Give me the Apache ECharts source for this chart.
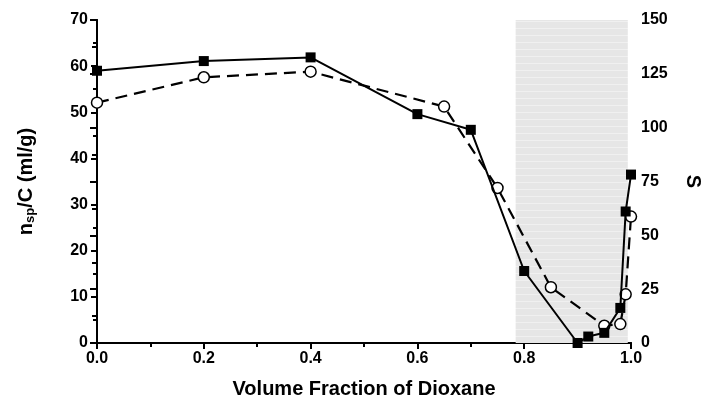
<!DOCTYPE html>
<html>
<head>
<meta charset="utf-8">
<script src="https://cdn.jsdelivr.net/npm/echarts@6/dist/echarts.min.js"></script>
<style>
  html, body { margin: 0; padding: 0; background: #fff; }
  #chart { width: 711px; height: 407px; }
</style>
</head>
<body>
<div id="chart"></div>
<script>
// nsp/C (left axis), filled squares
const nspX = [0, 0.2, 0.4, 0.6, 0.7, 0.8, 0.9, 0.92, 0.95, 0.98, 0.99, 1.0];
const nspY = [59, 61.1, 61.9, 49.6, 46.2, 15.6, 0, 1.4, 2.2, 7.6, 28.5, 36.5];

// S (right axis), open circles
const sX = [0, 0.2, 0.4, 0.65, 0.75, 0.85, 0.95, 0.98, 0.99, 1.0];
const sY = [111.6, 123.4, 126, 109.8, 72, 25.9, 8.0, 8.8, 22.6, 58.7];

// shaded band on x
const bandX = [0.784, 0.994];

const font = "'Liberation Sans', Arial, sans-serif";

// faint horizontal stripes for the shaded band
const pat = document.createElement("canvas");
pat.width = 4;
pat.height = 7;
const pctx = pat.getContext("2d");
pctx.fillStyle = "#e6e6e6";
pctx.fillRect(0, 0, 4, 7);
pctx.fillStyle = "#f0f0f0";
pctx.fillRect(0, 0, 4, 1);

const chart = echarts.init(document.getElementById("chart"));

const option = {
  animation: false,
  grid: { left: 97, right: 79, top: 20, bottom: 64 },
  xAxis: [
    {
      type: "value",
      min: 0,
      max: 1,
      interval: 0.2,
      name: "Volume Fraction of Dioxane",
      nameLocation: "middle",
      nameGap: 36,
      nameTextStyle: { fontFamily: font, fontWeight: "bold", fontSize: 20, color: "#000" },
      axisLine: { lineStyle: { color: "#000", width: 2 } },
      axisTick: { show: true, length: 6, lineStyle: { color: "#000", width: 2 } },
      minorTick: { show: true, splitNumber: 2, length: 4, lineStyle: { color: "#000", width: 2 } },
      splitLine: { show: false },
      axisLabel: {
        margin: 8,
        fontFamily: font, fontWeight: "bold", fontSize: 16, color: "#000",
        formatter: v => v.toFixed(1)
      }
    },
    {
      type: "value",
      position: "top",
      min: 0,
      max: 1,
      axisLine: { lineStyle: { color: "#000", width: 2 } },
      axisTick: { show: false },
      axisLabel: { show: false },
      splitLine: { show: false }
    }
  ],
  yAxis: [
    {
      type: "value",
      min: 0,
      max: 70,
      interval: 10,
      name: "{a|n}{b|sp}{a|/C (ml/g)}",
      nameLocation: "middle",
      nameGap: 60,
      nameTextStyle: {
        rich: {
          a: { fontFamily: font, fontWeight: "bold", fontSize: 20, color: "#000" },
          b: { fontFamily: font, fontWeight: "bold", fontSize: 13, color: "#000", verticalAlign: "bottom", padding: [9, 0, 0, 0] }
        }
      },
      axisLine: { show: true, lineStyle: { color: "#000", width: 2 } },
      axisTick: { show: true, length: 6, lineStyle: { color: "#000", width: 2 } },
      minorTick: { show: true, splitNumber: 2, length: 4, lineStyle: { color: "#000", width: 2 } },
      splitLine: { show: false },
      axisLabel: { margin: 9, fontFamily: font, fontWeight: "bold", fontSize: 16, color: "#000" }
    },
    {
      type: "value",
      min: 0,
      max: 150,
      interval: 25,
      name: "S",
      nameLocation: "middle",
      nameGap: 52,
      nameRotate: -90,
      nameTextStyle: { fontFamily: font, fontWeight: "bold", fontSize: 20, color: "#000" },
      axisLine: { show: true, lineStyle: { color: "#000", width: 2 } },
      axisTick: { show: true, inside: true, length: 7, lineStyle: { color: "#000", width: 2 } },
      minorTick: { show: true, splitNumber: 2, length: 5, lineStyle: { color: "#000", width: 2 } },
      splitLine: { show: false },
      axisLabel: { margin: 10, fontFamily: font, fontWeight: "bold", fontSize: 16, color: "#000" }
    }
  ],
  series: [
    {
      name: "S",
      type: "line",
      yAxisIndex: 1,
      data: sX.map((x, i) => [x, sY[i]]),
      symbol: "circle",
      symbolSize: 11,
      itemStyle: { color: "#fff", borderColor: "#000", borderWidth: 1.5 },
      lineStyle: { color: "#000", width: 2.2, type: [12, 7] },
      z: 3,
      markArea: {
        silent: true,
        itemStyle: { color: { image: pat, repeat: "repeat" } },
        data: [[{ xAxis: bandX[0] }, { xAxis: bandX[1] }]]
      }
    },
    {
      name: "nsp/C",
      type: "line",
      yAxisIndex: 0,
      data: nspX.map((x, i) => [x, nspY[i]]),
      symbol: "rect",
      symbolSize: 10,
      itemStyle: { color: "#000" },
      lineStyle: { color: "#000", width: 2 },
      z: 4
    }
  ]
};

chart.setOption(option);
</script>
</body>
</html>
